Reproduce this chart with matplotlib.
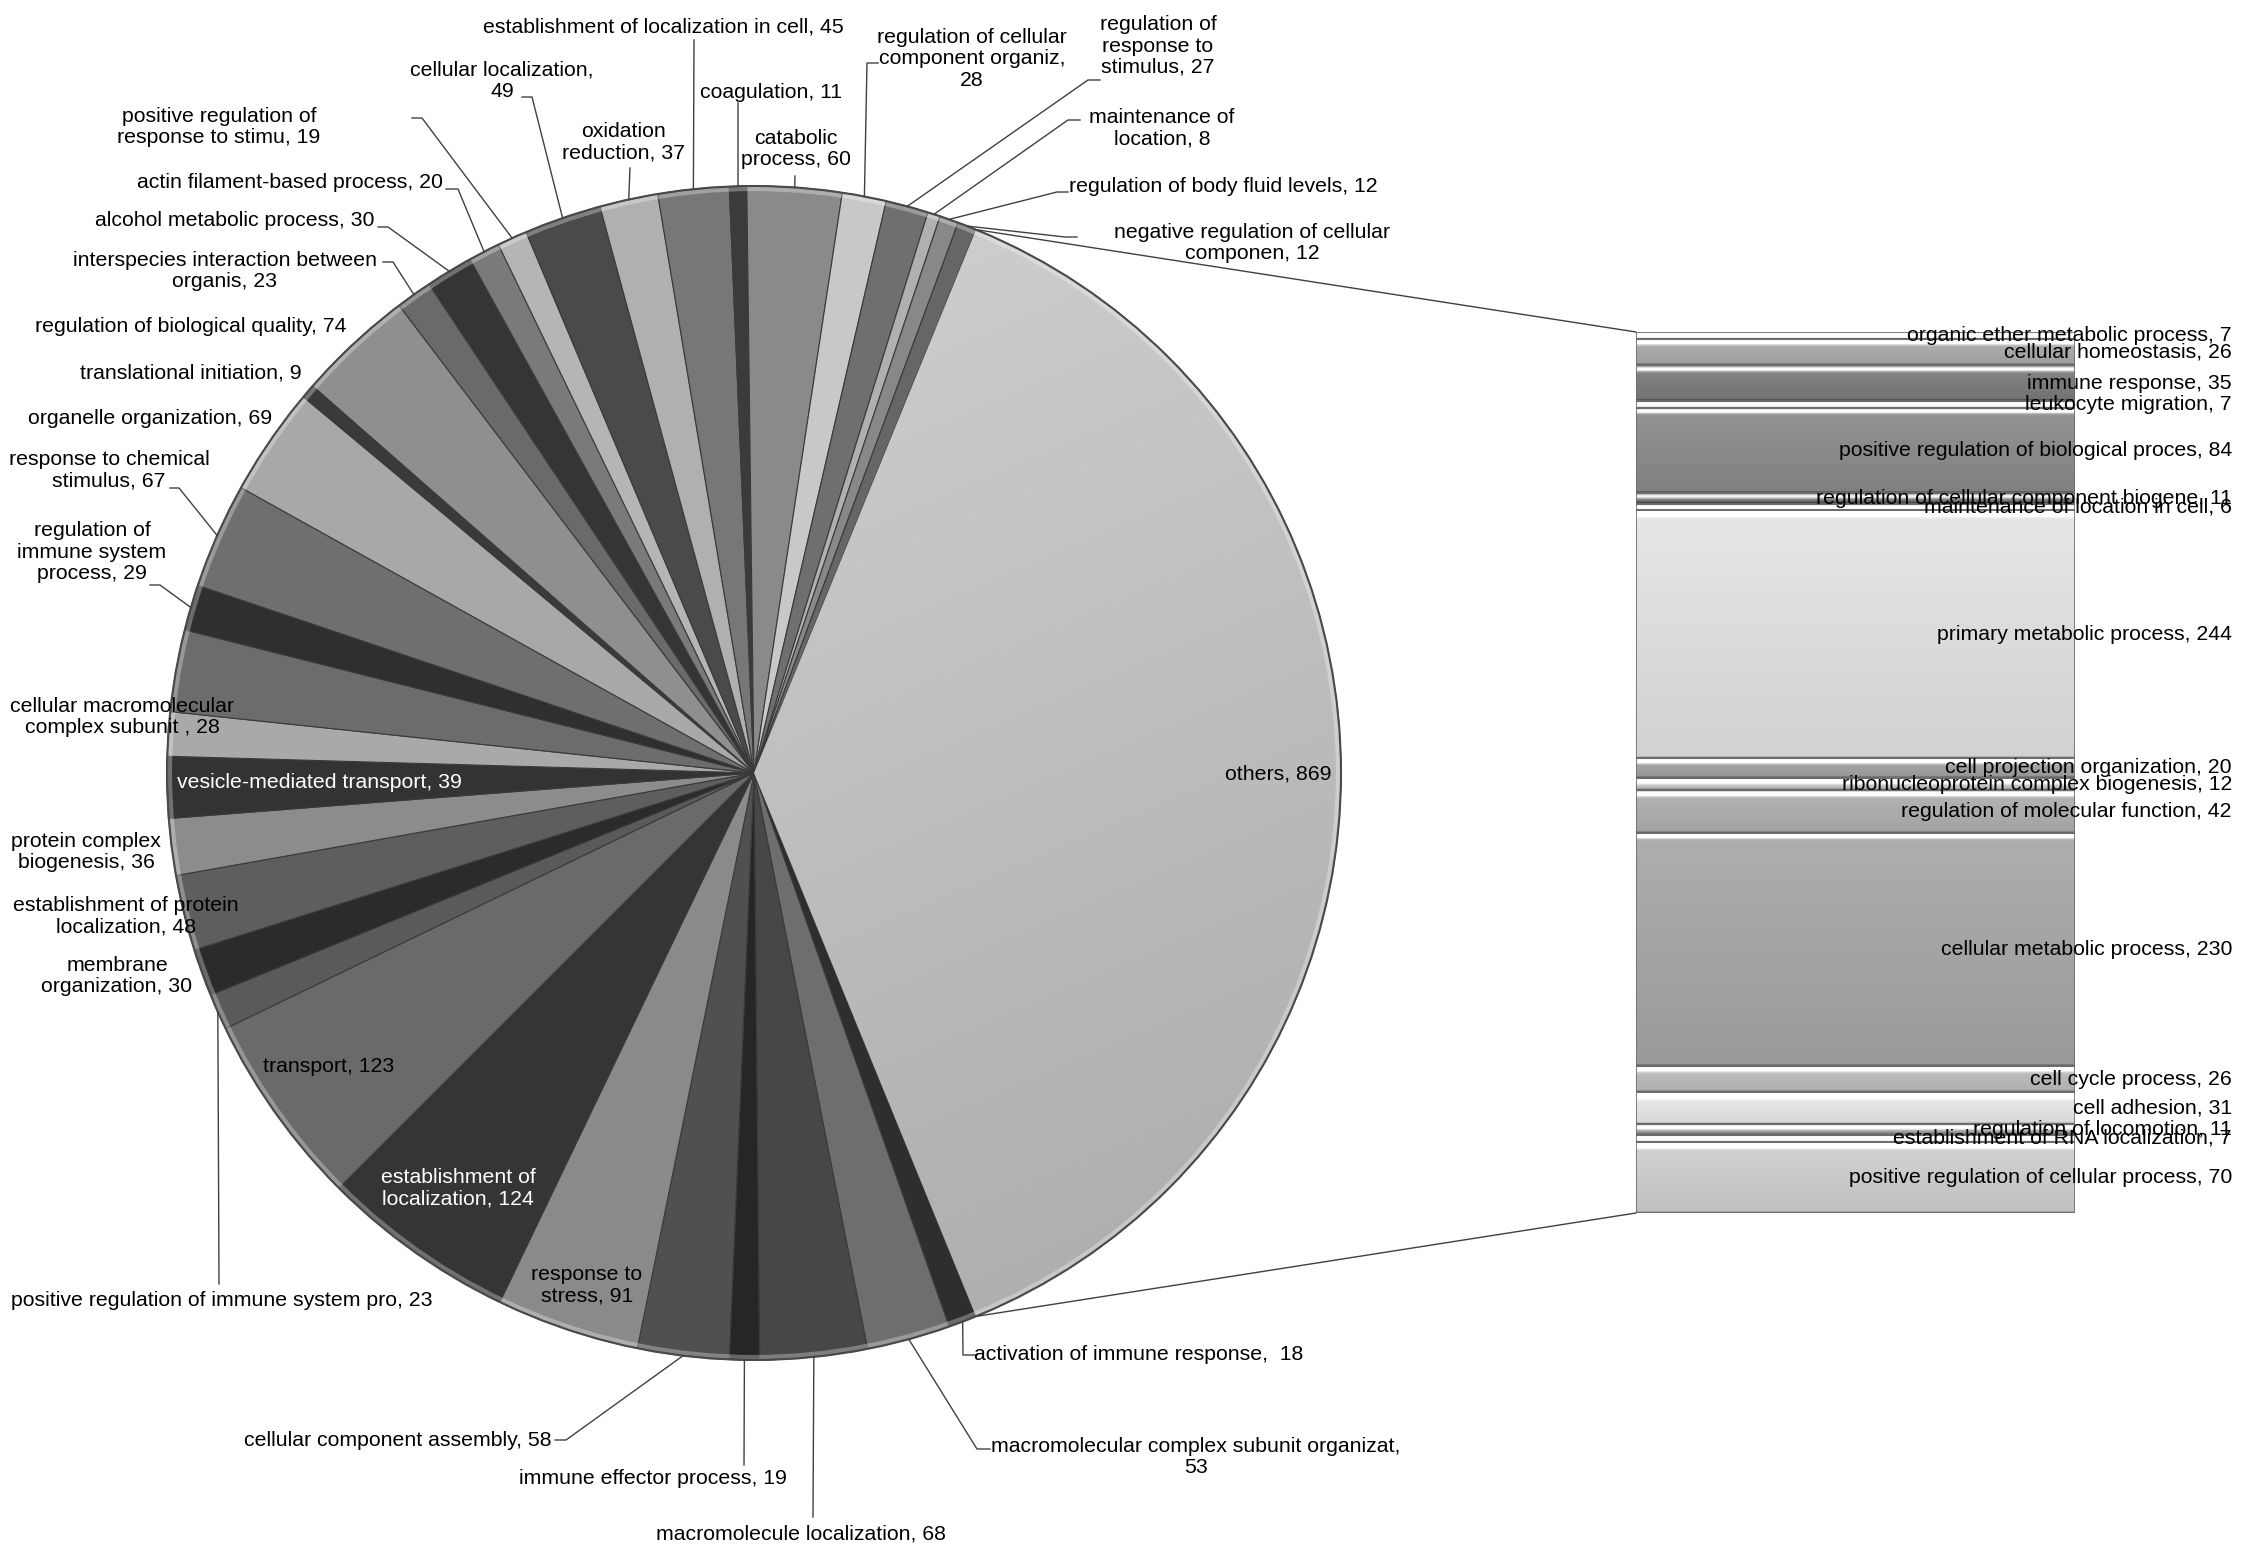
import matplotlib
matplotlib.use("Agg")
import matplotlib.pyplot as plt
from matplotlib.patches import ConnectionPatch, Circle
from matplotlib.colors import to_rgb
import numpy as np

plt.rcParams['font.family'] = ['Liberation Sans Narrow', 'Liberation Sans', 'DejaVu Sans']

# pie slices, clockwise, starting with the "others" slice that is split into the bar
pie_labels = [
    "others", "activation of immune response", "macromolecular complex subunit organizat",
    "macromolecule localization", "immune effector process", "cellular component assembly",
    "response to\nstress", "establishment of\nlocalization", "transport",
    "positive regulation of immune system pro", "membrane\norganization",
    "establishment of protein\nlocalization", "protein complex\nbiogenesis",
    "vesicle-mediated transport", "cellular macromolecular\ncomplex subunit ", "",
    "regulation of\nimmune system\nprocess", "response to chemical\nstimulus",
    "organelle organization", "translational initiation", "regulation of biological quality",
    "interspecies interaction between\norganis", "alcohol metabolic process",
    "actin filament-based process", "positive regulation of\nresponse to stimu",
    "cellular localization", "oxidation\nreduction", "establishment of localization in cell",
    "coagulation", "catabolic\nprocess", "regulation of cellular\ncomponent organiz",
    "regulation of\nresponse to\nstimulus", "maintenance of\nlocation",
    "regulation of body fluid levels", "negative regulation of cellular\ncomponen",
]
pie_values = [869, 18, 53, 68, 19, 58, 91, 124, 123, 23, 30, 48, 36, 39, 28, 52,
              29, 67, 69, 9, 74, 23, 30, 20, 19, 49, 37, 45, 11, 60, 28, 27, 8, 12, 12]
pie_colors = ['#bebebe', '#2e2e2e', '#6e6e6e', '#474747', '#262626', '#505050',
              '#8a8a8a', '#353535', '#6a6a6a', '#5a5a5a', '#2b2b2b', '#5e5e5e',
              '#8c8c8c', '#333333', '#a9a9a9', '#6c6c6c', '#2f2f2f', '#6f6f6f',
              '#a8a8a8', '#3a3a3a', '#8f8f8f', '#6a6a6a', '#353535', '#7a7a7a',
              '#b5b5b5', '#4a4a4a', '#b0b0b0', '#777777', '#3b3b3b', '#8a8a8a',
              '#c8c8c8', '#6f6f6f', '#b0b0b0', '#888888', '#666666']

# breakdown of "others", top to bottom
bar_labels = [
    "organic ether metabolic process", "cellular homeostasis", "immune response",
    "leukocyte migration", "positive regulation of biological proces",
    "regulation of cellular component biogene", "maintenance of location in cell",
    "primary metabolic process", "cell projection organization",
    "ribonucleoprotein complex biogenesis", "regulation of molecular function",
    "cellular metabolic process", "cell cycle process", "cell adhesion",
    "regulation of locomotion", "establishment of RNA localization",
    "positive regulation of cellular process",
]
bar_values = [7, 26, 35, 7, 84, 11, 6, 244, 20, 12, 42, 230, 26, 31, 11, 7, 70]
bar_colors = ['#c4c4c4', '#a8a8a8', '#7c7c7c', '#bdbdbd', '#8a8a8a', '#6e6e6e',
              '#c0c0c0', '#dcdcdc', '#a0a0a0', '#c4c4c4', '#acacac', '#a4a4a4',
              '#b8b8b8', '#e2e2e2', '#9a9a9a', '#c8c8c8', '#cacaca']

# label placement (pixel coords): x, y, separator before value, text colour, leader tick (x0, x1, y)
label_pos = [
    (1278, 774, ", ", 'black', None),
    (1139, 1355, ",  ", 'black', (977, 963, 1355)),
    (1196, 1457, ",\n", 'black', (990, 977, 1449)),
    (801, 1534, ", ", 'black', (813, 813, 1517)),
    (653, 1478, ", ", 'black', (744, 744, 1465)),
    (398, 1440, ", ", 'black', (555, 566, 1440)),
    (587, 1285, ", ", 'black', None),
    (458, 1188, ", ", 'white', None),
    (329, 1066, ", ", 'black', None),
    (222, 1301, ", ", 'black', (219, 219, 1284)),
    (117, 976, ", ", 'black', None),
    (126, 916, ", ", 'black', None),
    (86, 852, ", ", 'black', None),
    (319, 783, ", ", 'white', None),
    (122, 717, ", ", 'black', None),
    None,
    (92, 552, ", ", 'black', (150, 160, 585)),
    (109, 470, ", ", 'black', (170, 179, 488)),
    (150, 418, ", ", 'black', None),
    (191, 373, ", ", 'black', None),
    (191, 327, ", ", 'black', None),
    (225, 271, ", ", 'black', (383, 393, 262)),
    (235, 220, ", ", 'black', (378, 388, 227)),
    (290, 182, ", ", 'black', (446, 458, 189)),
    (219, 127, ", ", 'black', (412, 422, 118)),
    (502, 81, ",\n", 'black', (522, 532, 97)),
    (624, 142, ", ", 'black', (630, 630, 168)),
    (663, 27, ", ", 'black', (694, 694, 40)),
    (771, 93, ", ", 'black', (738, 738, 103)),
    (796, 149, ", ", 'black', (795, 795, 176)),
    (972, 59, ",\n", 'black', (878, 867, 63)),
    (1158, 46, ", ", 'black', (1100, 1088, 80)),
    (1162, 128, ", ", 'black', (1080, 1068, 120)),
    (1223, 186, ", ", 'black', (1068, 1057, 192)),
    (1252, 243, ", ", 'black', (1077, 1065, 237)),
]

W, H = 2244, 1555
cx, cy, R = 754, 773, 587
fs = 15.3

fig = plt.figure(figsize=(W / 100, H / 100), dpi=100)
ax = fig.add_axes([0, 0, 1, 1])

total = sum(pie_values)
start = -pie_values[0] / total * 180
wedges, _ = ax.pie(pie_values, colors=pie_colors, startangle=start, counterclock=True,
                   center=(cx, cy), radius=R,
                   wedgeprops=dict(edgecolor='#3a3a3a', linewidth=0.8))

# soft shading on the big "others" slice (light upper left, darker lower right)
n = 300
gx, gy = np.meshgrid(np.linspace(-1, 1, n), np.linspace(-1, 1, n))
shade = np.clip(0.5 + 0.35 * gy + 0.15 * gx, 0, 1)
base = np.array(to_rgb(pie_colors[0]))
img = np.clip(base[None, None, :] + (0.10 - 0.18 * shade)[..., None], 0, 1)
im = ax.imshow(img, extent=(cx - R, cx + R, cy + R, cy - R), origin='upper',
               interpolation='bilinear', zorder=1.5)
im.set_clip_path(wedges[0])

ax.add_patch(Circle((cx, cy), R - 3, fill=False, edgecolor='white', alpha=0.3,
                    linewidth=3, zorder=2))
ax.add_patch(Circle((cx, cy), R, fill=False, edgecolor='#4a4a4a', linewidth=1.5, zorder=2))
ax.set_xlim(0, W)
ax.set_ylim(H, 0)
ax.set_aspect('equal')
ax.axis('off')

for w, name, val, pos in zip(wedges, pie_labels, pie_values, label_pos):
    if pos is None:
        continue
    x, y, sep, col, tick = pos
    ax.text(x, y, name + sep + str(val), ha='center', va='center', fontsize=fs,
            color=col, linespacing=1.15, zorder=5)
    if tick is not None:
        th = np.deg2rad((w.theta1 + w.theta2) / 2)
        px, py = cx + R * np.cos(th), cy + R * np.sin(th)
        ax.plot([tick[0], tick[1], px], [tick[2], tick[2], py], color='#404040', lw=1,
                zorder=4)

# bar of "others"
bx0, by0, bx1, by1 = 1636, 332, 2075, 1213
ax2 = fig.add_axes([bx0 / W, 1 - by1 / H, (bx1 - bx0) / W, (by1 - by0) / H])
bottoms = np.concatenate([[0], np.cumsum(bar_values)[:-1]])
bars = ax2.bar(0.5, bar_values, bottom=bottoms, width=1, color=bar_colors,
               edgecolor='#6a6a6a', linewidth=1)
px_per = (by1 - by0) / sum(bar_values)
for rect, val, b, col in zip(bars, bar_values, bottoms, bar_colors):
    hp = max(int(round(val * px_per)), 2)
    d = np.arange(hp) + 0.5
    t = d / hp
    light = 0.08 * (0.5 - t) + 0.55 * np.exp(-((d - 4) / 2.2) ** 2)
    light[-2:] -= 0.12
    c = np.clip(np.array(to_rgb(col))[None, :] + light[:, None], 0, 1)
    gimg = np.repeat(c[:, None, :], 4, axis=1)
    gi = ax2.imshow(gimg, extent=(0, 1, b + val, b), origin='upper', aspect='auto',
                    interpolation='bilinear', zorder=1.5)
    gi.set_clip_path(rect)
ax2.bar(0.5, bar_values, bottom=bottoms, width=1, fill=False, edgecolor='#6a6a6a',
        linewidth=1.2, zorder=3)
ax2.set_xlim(0, 1)
ax2.set_ylim(sum(bar_values), 0)
ax2.axis('off')
xr = (2232 - bx0) / (bx1 - bx0)
for name, val, b in zip(bar_labels, bar_values, bottoms):
    ax2.text(xr, b + val / 2, f"{name}, {val}", ha='right', va='center',
             fontsize=fs, clip_on=False, zorder=5)

# connector lines from "others" slice to the bar
w0 = wedges[0]
for th, yb in [(w0.theta1, 0), (w0.theta2, sum(bar_values))]:
    t = np.deg2rad(th)
    con = ConnectionPatch(xyA=(cx + R * np.cos(t), cy + R * np.sin(t)), coordsA=ax.transData,
                          xyB=(0, yb), coordsB=ax2.transData, color='#404040', lw=1)
    fig.add_artist(con)

fig.savefig("out.png", dpi=100, facecolor='white')
